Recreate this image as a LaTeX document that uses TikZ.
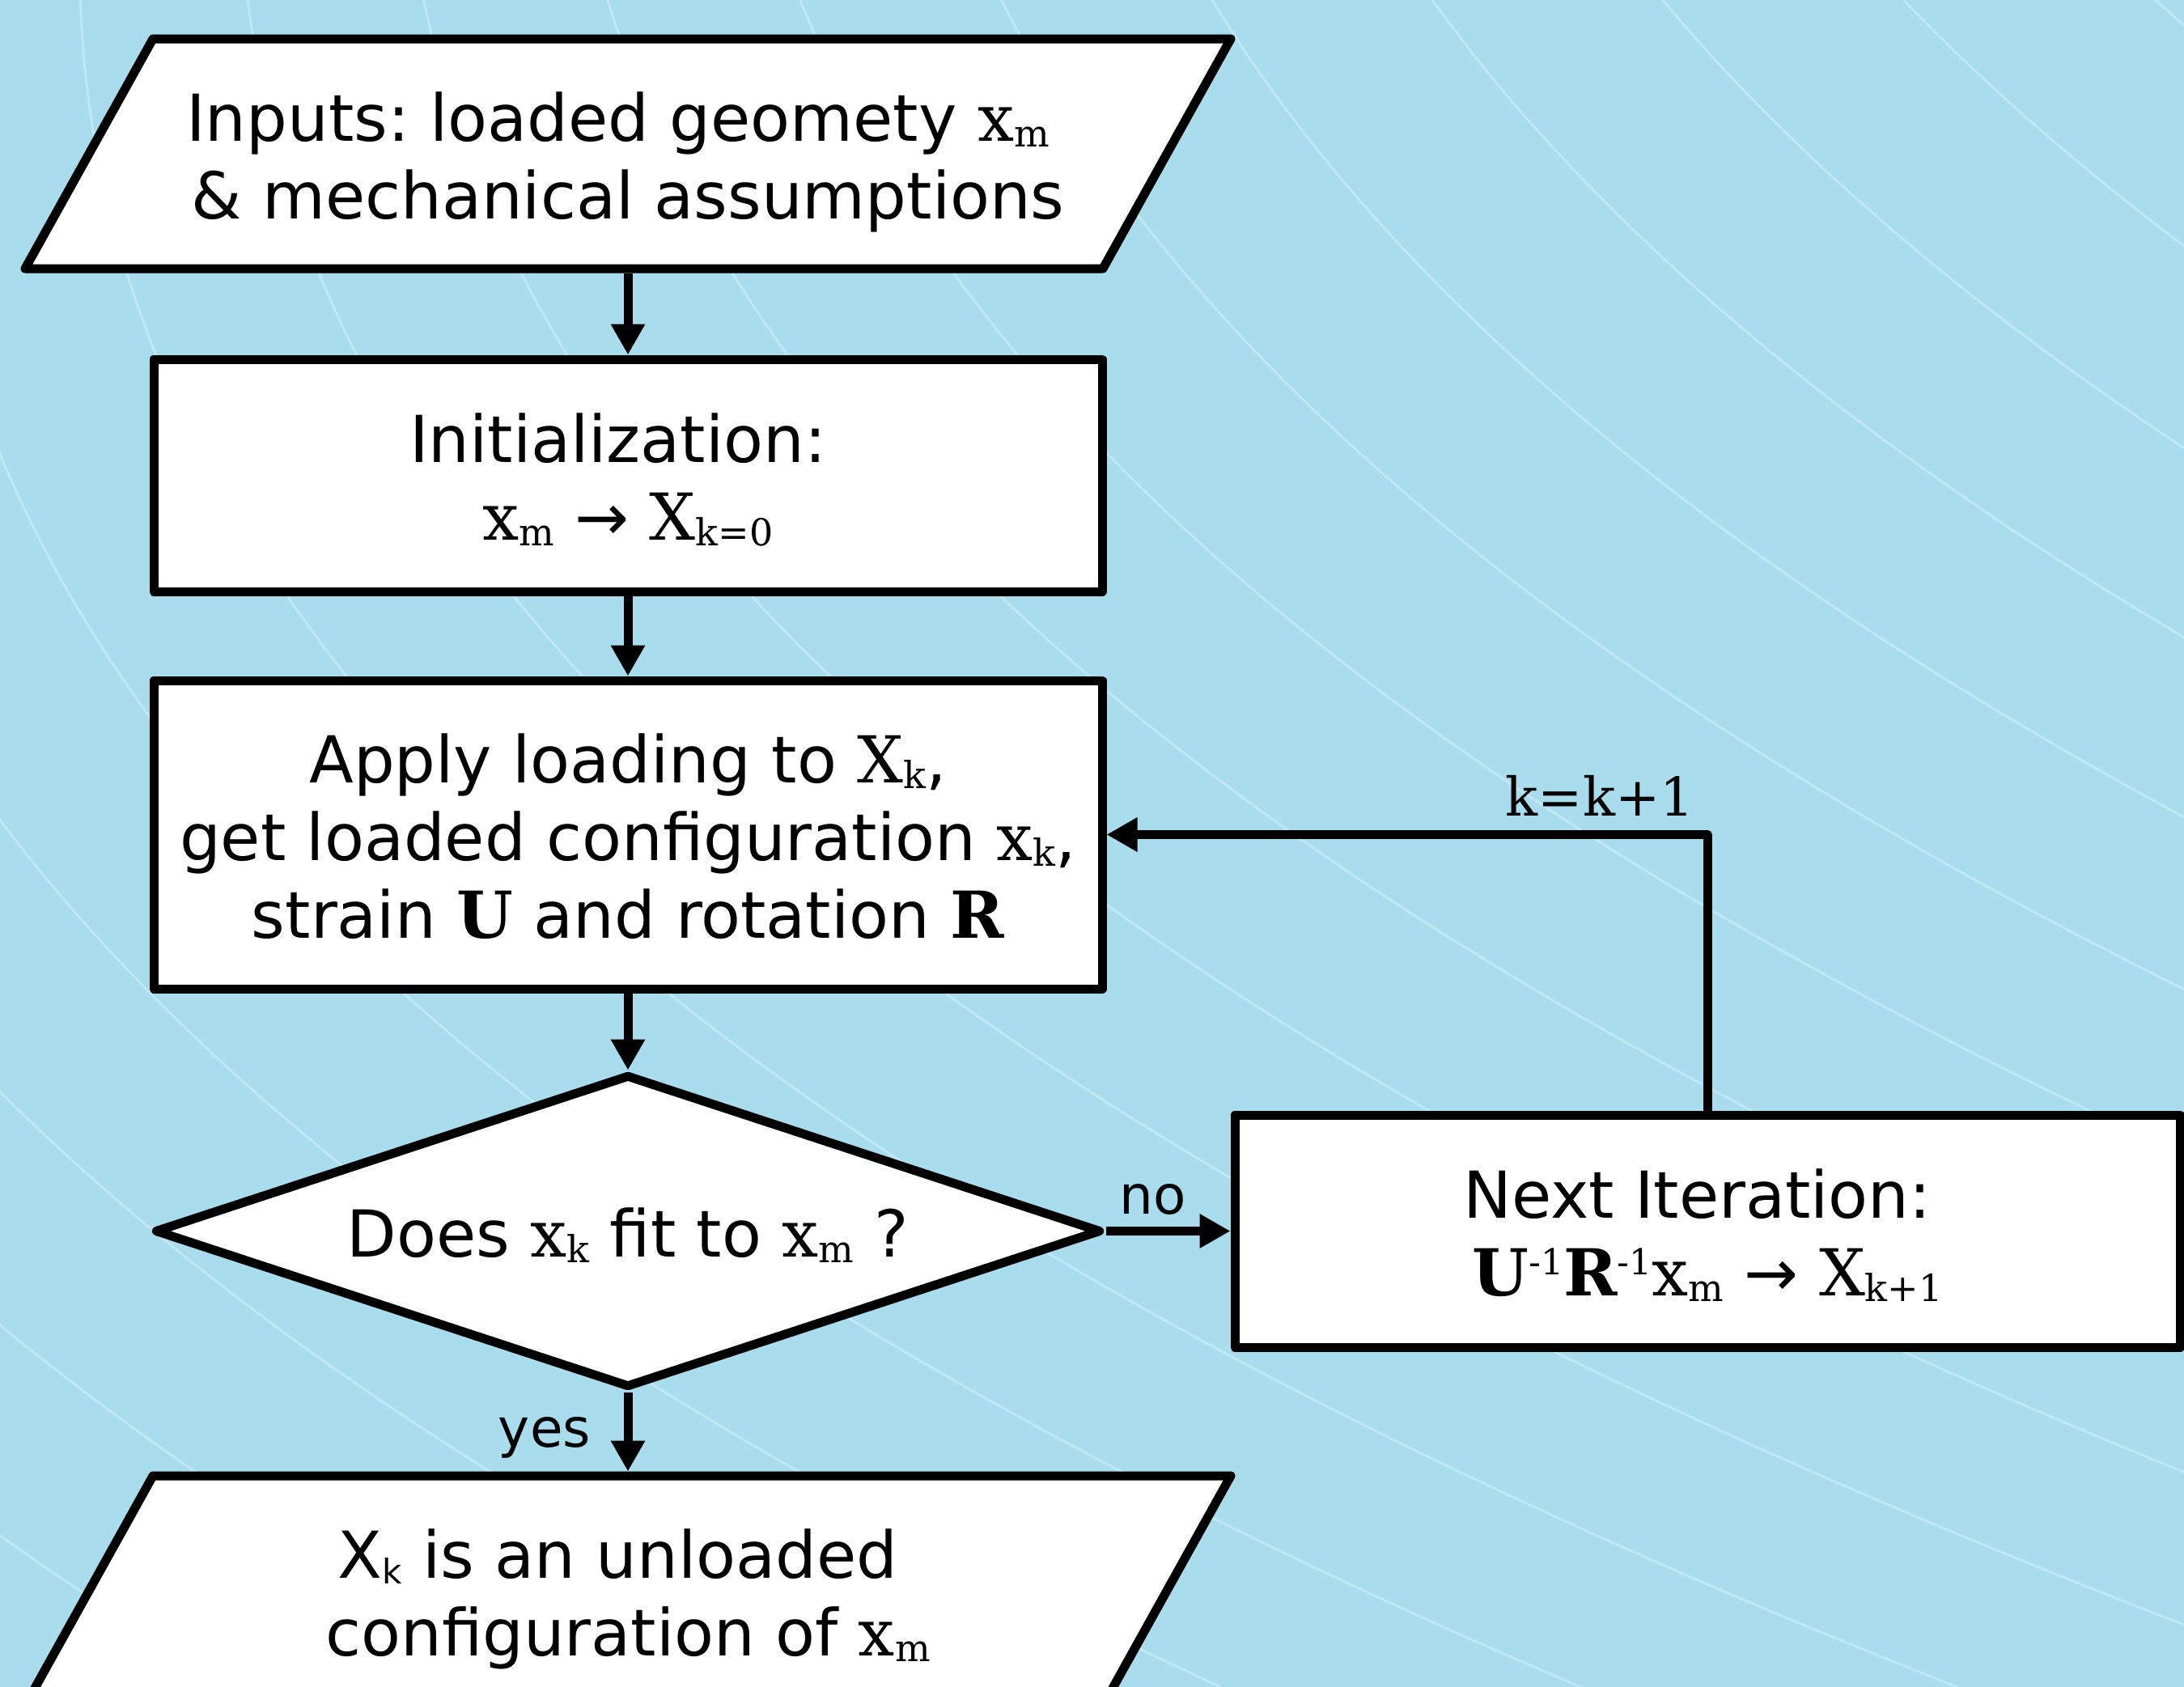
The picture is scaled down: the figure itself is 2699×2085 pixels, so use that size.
\documentclass[tikz,border=0pt]{standalone}
\usepackage{fontspec}
\setmainfont{DejaVu Sans}
\newfontfamily\srf{DejaVu Serif}
\usetikzlibrary{arrows.meta,shapes.geometric}
\frenchspacing
\definecolor{bgblue}{RGB}{169,220,236}
\definecolor{bgline}{RGB}{192,232,244}
\newcommand\st{\rule[-18pt]{0pt}{100pt}}
\newcommand\tsp{\kern25pt\relax}
\newcommand\fixls{\lineskiplimit=-200pt\relax\lineskip=0pt\relax}
\newcommand\mainfnt{\fontsize{80}{96}\selectfont\fixls}
\newcommand\sbx[1]{\raisebox{-7pt}{\fontsize{46}{46}\selectfont\srf #1}}
\newcommand\sbs[1]{\raisebox{-7pt}{\fontsize{42}{42}\selectfont #1}}
\newcommand\spx[1]{\raisebox{26pt}{\fontsize{44}{44}\selectfont\srf #1}}
\newcommand\vx[2]{{\srf #1}\sbx{#2}}
\newcommand\bU{{\srf\bfseries U}}
\newcommand\bR{{\srf\bfseries R}}
\begin{document}
\begin{tikzpicture}[x=1pt,y=-1pt,line join=round,
  every node/.style={font=\mainfnt},
  shapeline/.style={draw=black,line width=11pt,fill=white},
  procbox/.style={shapeline,rectangle,inner sep=0pt,align=center},
  decbox/.style={shapeline,diamond,aspect=3.02,inner sep=0pt,align=center},
  ptext/.style={inner sep=0pt,outer sep=0pt,minimum height=295pt,align=center},
  conn/.style={draw=black,line width=11pt,-{Triangle[length=38pt,width=40pt]}},
  lbl/.style={font=\fontsize{66}{66}\selectfont,inner sep=0pt}]
\useasboundingbox (0,0) rectangle (2699,2085);
\fill[bgblue] (0,0) rectangle (2699,2085);
\begin{scope}
\clip (0,0) rectangle (2699,2085);
\foreach \n in {-7,...,10}{
  \pgfmathsetmacro\kk{4.726*1.046^\n}
  \draw[bgline,line width=3pt] plot[smooth,domain=0:2085,samples=30,variable=\t]
    ({(\kk*exp(\t/2439)-0.00182*\t-4.42)*1000},\t);
}
\end{scope}
% input parallelogram
\draw[shapeline] (189,48) -- (1521,48) -- (1363,332) -- (31,332) -- cycle;
\node[ptext] (inp) at (776,190) {\st Inputs: loaded geomety \vx{x}{m}\tsp\\\st\& mechanical assumptions};
% initialization
\node[procbox,minimum width=1172pt,minimum height=287pt] (init) at (776,587.5)
  {\st Initialization:\tsp\\\st\vx{x}{m} → \vx{X}{k=0}};
% apply loading
\node[procbox,minimum width=1172pt,minimum height=381pt] (apply) at (776,1031.5)
  {\st Apply loading to \vx{X}{k},\\\st get loaded configuration \vx{x}{k},\\\st strain \bU{} and rotation \bR};
% decision
\node[decbox,minimum width=1170pt,minimum height=387pt] (dia) at (776,1521.5)
  {\st Does \vx{x}{k} fit to \vx{x}{m} ?};
% next iteration
\node[procbox,minimum width=1168pt,minimum height=287pt] (next) at (2110,1521.5)
  {\st Next Iteration:\tsp\\\st\bU\spx{-1}\bR\spx{-1}\vx{x}{m} → \vx{X}{k+1}};
% output parallelogram
\draw[shapeline] (189,1824) -- (1521,1824) -- (1363,2108) -- (31,2108) -- cycle;
\node[ptext] (outp) at (776,1966) {\st X\sbs{k} is an unloaded\tsp\\\st configuration of \vx{x}{m}};
% connectors
\draw[conn] (inp.south) -- (init.north);
\draw[conn] (init.south) -- (apply.north);
\draw[conn] (apply.south) -- (dia.north);
\draw[conn] (dia.east) -- (next.west);
\draw[conn] (dia.south) -- (outp.north);
\draw[conn] (next.north) |- (apply.east);
% labels
\node[lbl,anchor=base] (lno) at (1425,1500) {no};
\node[lbl,anchor=base] (lyes) at (673,1788) {yes};
\node[lbl,anchor=base] (lk) at (1977,1008) {\srf k=k+1};
\end{tikzpicture}
\end{document}
